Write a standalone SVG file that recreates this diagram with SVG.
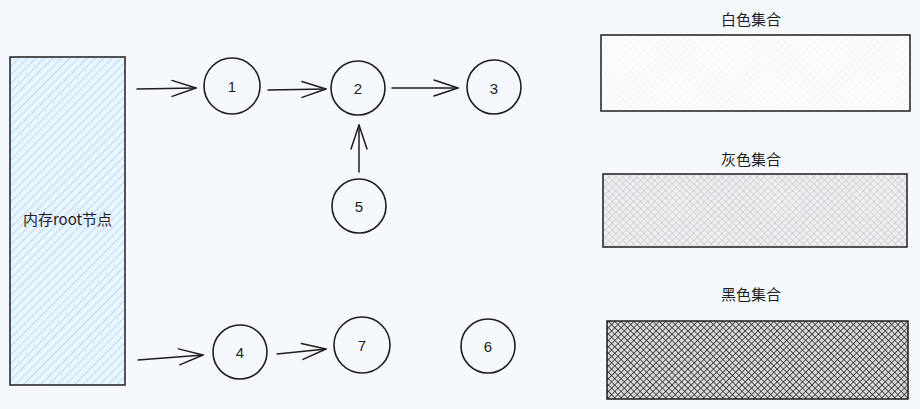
<svg xmlns="http://www.w3.org/2000/svg" width="920" height="409" viewBox="0 0 920 409">
<defs>
<style>
.stroke{fill:none;stroke:#1e1e1e;stroke-width:1.5;stroke-linecap:round;stroke-linejoin:round}
.node{fill:#f5f9fd;stroke:#1e1e1e;stroke-width:1.6}
.num{font-family:"Liberation Sans","Noto Sans",sans-serif;font-size:15px;fill:#1e1e1e;text-anchor:middle;dominant-baseline:central}
.lbl{font-family:"Noto Sans CJK SC","Noto Sans",sans-serif;font-size:15px;fill:#1e1e1e;text-anchor:middle;dominant-baseline:central}
</style>
<pattern id="blue" width="6" height="6" patternUnits="userSpaceOnUse" patternTransform="rotate(45)">
<rect width="6" height="6" fill="#eaf4fd"/>
<line x1="0" y1="0" x2="0" y2="6" stroke="#a5d8ff" stroke-width="1.6"/>
</pattern>
<pattern id="white" width="5" height="5" patternUnits="userSpaceOnUse" patternTransform="rotate(-45)">
<rect width="5" height="5" fill="#fbfcfd"/>
<line x1="0" y1="0" x2="0" y2="5" stroke="#eef0f2" stroke-width="0.8"/>
<line x1="0" y1="0" x2="5" y2="0" stroke="#eef0f2" stroke-width="0.8"/>
</pattern>
<pattern id="gray" width="5" height="5" patternUnits="userSpaceOnUse" patternTransform="rotate(-45)">
<rect width="5" height="5" fill="#eceef0"/>
<line x1="0" y1="0" x2="0" y2="5" stroke="#bfc3c8" stroke-width="1"/>
<line x1="0" y1="0" x2="5" y2="0" stroke="#bfc3c8" stroke-width="1"/>
</pattern>
<pattern id="black" width="4.5" height="4.5" patternUnits="userSpaceOnUse" patternTransform="rotate(-45)">
<rect width="4.5" height="4.5" fill="#d6d8da"/>
<line x1="0" y1="0" x2="0" y2="4.5" stroke="#1e1e1e" stroke-width="1.4"/>
<line x1="0" y1="0" x2="4.5" y2="0" stroke="#1e1e1e" stroke-width="1.4"/>
</pattern>
<marker id="arr" viewBox="-26 -10 28 20" refX="0" refY="0" markerWidth="28" markerHeight="20" markerUnits="userSpaceOnUse" orient="auto" overflow="visible">
<path d="M-24,-8 L0,0 L-24,8" fill="none" stroke="#1e1e1e" stroke-width="1.5" stroke-linecap="round" stroke-linejoin="round"/>
</marker>
</defs>
<rect width="920" height="409" fill="#f5f9fd"/>

<g id="root">
<rect x="10" y="57" width="115" height="328" fill="url(#blue)" stroke="#1e1e1e" stroke-width="1.5"/>
<text class="lbl" x="67.5" y="218">内存root节点</text>
</g>

<g id="n1"><circle class="node" cx="232" cy="86" r="28"/><text class="num" x="232" y="86">1</text></g>
<g id="n2"><circle class="node" cx="358" cy="88" r="27"/><text class="num" x="358" y="88">2</text></g>
<g id="n3"><circle class="node" cx="494" cy="87" r="27"/><text class="num" x="494" y="88">3</text></g>
<g id="n5"><circle class="node" cx="359" cy="206" r="27"/><text class="num" x="359" y="206">5</text></g>
<g id="n4"><circle class="node" cx="240" cy="352" r="27"/><text class="num" x="240" y="352">4</text></g>
<g id="n7"><circle class="node" cx="362" cy="345" r="28"/><text class="num" x="362" y="345">7</text></g>
<g id="n6"><circle class="node" cx="488" cy="346" r="27"/><text class="num" x="488" y="346">6</text></g>

<g id="connectors" class="stroke">
<path d="M137,89 L196,88" marker-end="url(#arr)"/>
<path d="M268,90 L326,89" marker-end="url(#arr)"/>
<path d="M392,88 L458,88" marker-end="url(#arr)"/>
<path d="M359,172 L359,125" marker-end="url(#arr)"/>
<path d="M138,360 L203,355" marker-end="url(#arr)"/>
<path d="M277,354 L326,349" marker-end="url(#arr)"/>
</g>

<g id="white-set">
<text class="lbl" x="751" y="18">白色集合</text>
<rect x="601" y="35" width="309" height="76" fill="url(#white)" stroke="#1e1e1e" stroke-width="1.5"/>
</g>
<g id="gray-set">
<text class="lbl" x="751" y="158">灰色集合</text>
<rect x="603" y="174" width="304" height="73" fill="url(#gray)" stroke="#1e1e1e" stroke-width="1.5"/>
</g>
<g id="black-set">
<text class="lbl" x="751" y="293">黑色集合</text>
<rect x="607" y="321" width="301" height="78" fill="url(#black)" stroke="#1e1e1e" stroke-width="1.5"/>
</g>
</svg>
